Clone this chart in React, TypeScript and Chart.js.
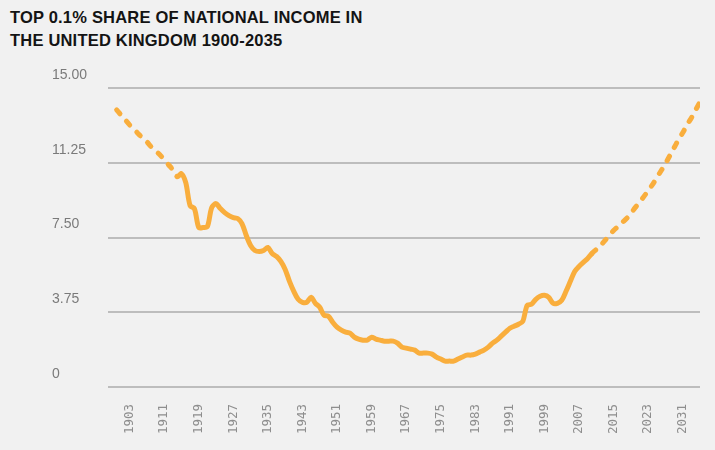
import { useEffect, useRef } from "react"
import { Chart, ChartConfiguration, registerables } from "chart.js"

Chart.register(...registerables)

const titleLines = ["TOP 0.1% SHARE OF NATIONAL INCOME IN", "THE UNITED KINGDOM 1900-2035"]

const years = [
  1900, 1901, 1902, 1903, 1904, 1905, 1906, 1907, 1908, 1909,
  1910, 1911, 1912, 1913, 1914, 1915, 1916, 1917, 1918, 1919,
  1920, 1921, 1922, 1923, 1924, 1925, 1926, 1927, 1928, 1929,
  1930, 1931, 1932, 1933, 1934, 1935, 1936, 1937, 1938, 1939,
  1940, 1941, 1942, 1943, 1944, 1945, 1946, 1947, 1948, 1949,
  1950, 1951, 1952, 1953, 1954, 1955, 1956, 1957, 1958, 1959,
  1960, 1961, 1962, 1963, 1964, 1965, 1966, 1967, 1968, 1969,
  1970, 1971, 1972, 1973, 1974, 1975, 1976, 1977, 1978, 1979,
  1980, 1981, 1982, 1983, 1984, 1985, 1986, 1987, 1988, 1989,
  1990, 1991, 1992, 1993, 1994, 1995, 1996, 1997, 1998, 1999,
  2000, 2001, 2002, 2003, 2004, 2005, 2006, 2007, 2008, 2009,
  2010, 2011, 2012, 2013, 2014, 2015, 2016, 2017, 2018, 2019,
  2020, 2021, 2022, 2023, 2024, 2025, 2026, 2027, 2028, 2029,
  2030, 2031, 2032, 2033, 2034, 2035,
]

const share = [
  13.9, 13.65, 13.4, 13.15, 12.95, 12.7, 12.5, 12.3, 12.05, 11.85,
  11.65, 11.4, 11.15, 10.9, 10.55, 10.7, 10.25, 9.1, 8.95, 8.0,
  8.0, 8.05, 9.0, 9.2, 8.95, 8.75, 8.6, 8.5, 8.45, 8.2,
  7.6, 7.1, 6.85, 6.8, 6.85, 7.0, 6.7, 6.55, 6.3, 5.9,
  5.3, 4.8, 4.4, 4.25, 4.25, 4.5, 4.2, 4.0, 3.6, 3.55,
  3.25, 3.0, 2.85, 2.75, 2.7, 2.5, 2.4, 2.35, 2.35, 2.5,
  2.4, 2.35, 2.3, 2.3, 2.3, 2.2, 2.0, 1.95, 1.9, 1.85,
  1.7, 1.7, 1.7, 1.65, 1.5, 1.4, 1.3, 1.3, 1.3, 1.4,
  1.5, 1.6, 1.6, 1.65, 1.75, 1.85, 2.0, 2.2, 2.35, 2.55,
  2.75, 2.95, 3.05, 3.15, 3.3, 4.1, 4.15, 4.4, 4.55, 4.6,
  4.5, 4.2, 4.2, 4.35, 4.8, 5.3, 5.8, 6.05, 6.25, 6.45,
  6.7, 6.9, 7.1, 7.35, 7.6, 7.85, 8.05, 8.25, 8.45, 8.7,
  9.0, 9.25, 9.55, 9.85, 10.15, 10.5, 10.85, 11.2, 11.6, 12.0,
  12.4, 12.75, 13.15, 13.5, 13.9, 14.3,
]

// estimated / projected stretches are drawn dashed
const measuredFrom = 1915
const measuredTo = 2010

const xTicks = [1903, 1911, 1919, 1927, 1935, 1943, 1951, 1959, 1967, 1975, 1983, 1991, 1999, 2007, 2015, 2023, 2031]
const yTicks = [0, 3.75, 7.5, 11.25, 15]
const yTickLabels = ["0", "3.75", "7.50", "11.25", "15.00"]

export default function App() {
  const chartRef = useRef<HTMLCanvasElement>(null)
  const chartInstanceRef = useRef<Chart | null>(null)

  useEffect(() => {
    if (!chartRef.current) return
    if (chartInstanceRef.current) chartInstanceRef.current.destroy()
    const ctx = chartRef.current.getContext("2d")
    if (!ctx) return

    const config: ChartConfiguration = {
      type: "line",
      data: {
        datasets: [
          {
            label: "Top 0.1% share",
            data: years.map((y, i) => ({ x: y, y: share[i] })),
            borderColor: "#f9ae3d",
            borderWidth: 5,
            borderCapStyle: "round",
            borderJoinStyle: "round",
            pointRadius: 0,
            tension: 0.3,
            fill: false,
            segment: {
              borderDash: (c: any) =>
                c.p0.parsed.x < measuredFrom || c.p0.parsed.x >= measuredTo ? [5, 10] : undefined,
            },
          },
        ],
      },
      options: {
        animation: false,
        responsive: true,
        maintainAspectRatio: false,
        layout: { padding: { top: 88, left: 52, right: 10, bottom: 0 } },
        plugins: {
          legend: { display: false },
          tooltip: { enabled: false },
        },
        scales: {
          x: {
            type: "linear",
            min: 1898,
            max: 2035,
            grid: { display: false, drawTicks: false },
            border: { display: false },
            afterBuildTicks: (scale: any) => {
              scale.ticks = xTicks.map((v) => ({ value: v }))
            },
            afterFit: (scale: any) => {
              scale.height = 63
            },
            ticks: {
              autoSkip: false,
              minRotation: 90,
              maxRotation: 90,
              padding: 17,
              color: "#8e8e8e",
              font: { family: "'DejaVu Sans Mono', monospace", size: 12.5 },
              callback: (v: any) => String(v),
            },
          },
          y: {
            min: 0,
            max: 15,
            grid: { color: "#bdbdbd", lineWidth: 2, drawTicks: false },
            border: { display: false },
            afterBuildTicks: (scale: any) => {
              scale.ticks = yTicks.map((v) => ({ value: v }))
            },
            afterFit: (scale: any) => {
              scale.width = 56
            },
            ticks: {
              crossAlign: "far",
              labelOffset: -13,
              color: "#7a7a7a",
              font: { family: "'Liberation Sans', Arial, sans-serif", size: 14 },
              callback: (v: any) => yTickLabels[yTicks.indexOf(Number(v))] ?? String(v),
            },
          },
        },
      },
    }

    chartInstanceRef.current = new Chart(ctx, config)

    return () => {
      if (chartInstanceRef.current) {
        chartInstanceRef.current.destroy()
        chartInstanceRef.current = null
      }
    }
  }, [])

  return (
    <div
      style={{
        position: "fixed",
        left: 0,
        top: 0,
        width: 715,
        height: 450,
        background: "#f1f1f1",
      }}
    >
      <div
        style={{
          position: "absolute",
          left: 10,
          top: 6,
          fontFamily: "'Liberation Sans', Arial, sans-serif",
          fontWeight: 700,
          fontSize: 16.5,
          lineHeight: "22.5px",
          color: "#141414",
          letterSpacing: 0.2,
        }}
      >
        {titleLines.map((t) => (
          <div key={t}>{t}</div>
        ))}
      </div>
      <div style={{ position: "absolute", left: 0, top: 0, width: 715, height: 450 }}>
        <canvas ref={chartRef} />
      </div>
    </div>
  )
}
